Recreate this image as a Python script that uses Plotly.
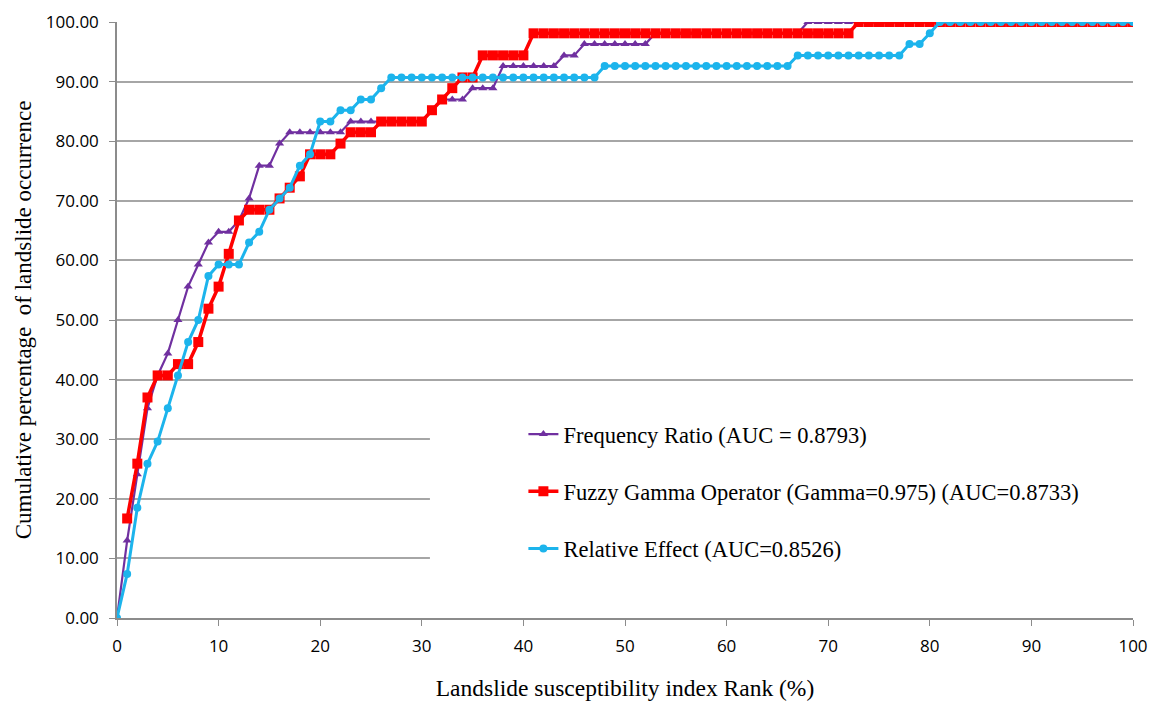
import plotly.graph_objects as go

x_rank = list(range(0, 101))

freq_ratio = ([0, 13.0, 24.1, 35.2, 40.7, 44.4, 50.0, 55.6, 59.3, 63.0, 64.8, 64.8, 66.7,
               70.4, 75.9, 75.9, 79.6, 81.5, 81.5, 81.5, 81.5, 81.5, 81.5, 83.3, 83.3, 83.3,
               83.3, 83.3, 83.3, 83.3, 83.3, 85.2, 87.0, 87.0, 87.0, 88.9, 88.9, 88.9,
               92.6, 92.6, 92.6, 92.6, 92.6, 92.6, 94.4, 94.4,
               96.3, 96.3, 96.3, 96.3, 96.3, 96.3, 96.3]
              + [98.1] * 15 + [100.0] * 33)

fuzzy_x = list(range(1, 101))
fuzzy_gamma = ([16.7, 25.9, 37.0, 40.7, 40.7, 42.6, 42.6, 46.3, 51.9, 55.6, 61.1, 66.7,
                68.5, 68.5, 68.5, 70.4, 72.2, 74.1, 77.8, 77.8, 77.8, 79.6, 81.5, 81.5, 81.5,
                83.3, 83.3, 83.3, 83.3, 83.3, 85.2, 87.0, 88.9, 90.7, 90.7,
                94.4, 94.4, 94.4, 94.4, 94.4]
               + [98.1] * 32 + [100.0] * 28)

relative_effect = ([0, 7.4, 18.5, 25.9, 29.6, 35.2, 40.7, 46.3, 50.0, 57.4, 59.3, 59.3, 59.3,
                    63.0, 64.8, 68.5, 70.4, 72.2, 75.9, 77.8, 83.3, 83.3, 85.2, 85.2, 87.0,
                    87.0, 88.9]
                   + [90.7] * 21 + [92.6] * 19 + [94.4] * 11 + [96.3, 96.3, 98.1]
                   + [100.0] * 20)

y_ticks = [0, 10, 20, 30, 40, 50, 60, 70, 80, 90, 100]
y_tick_labels = ["%.2f" % v for v in y_ticks]
x_ticks = [0, 10, 20, 30, 40, 50, 60, 70, 80, 90, 100]

names = ["Frequency Ratio (AUC = 0.8793)",
         "Fuzzy Gamma Operator (Gamma=0.975) (AUC=0.8733)",
         "Relative Effect (AUC=0.8526)"]

fig = go.Figure()
fig.add_trace(go.Scatter(x=x_rank, y=freq_ratio, mode="lines+markers", name=names[0],
                         legendgroup="a",
                         line=dict(color="#7030A0", width=2.2),
                         marker=dict(symbol="triangle-up", size=8, color="#7030A0")))
fig.add_trace(go.Scatter(x=fuzzy_x, y=fuzzy_gamma, mode="lines+markers", name=names[1],
                         legendgroup="b",
                         line=dict(color="#FF0000", width=3.5),
                         marker=dict(symbol="square", size=10, color="#FF0000")))
fig.add_trace(go.Scatter(x=x_rank, y=relative_effect, mode="lines+markers", name=names[2],
                         legendgroup="c",
                         line=dict(color="#1CB4EC", width=3),
                         marker=dict(symbol="circle", size=8, color="#1CB4EC")))

# white legend background covering gridlines
fig.add_shape(type="rect", xref="x", yref="y", x0=30.8, x1=100, y0=1, y1=36.5,
              fillcolor="white", line=dict(width=0), layer="between")

fig.update_layout(
    width=1149, height=701,
    margin=dict(l=117, r=16, t=22, b=83),
    paper_bgcolor="white", plot_bgcolor="white",
    showlegend=True,
    legend=dict(x=0.400, y=0.344, xanchor="left", yanchor="top",
                bgcolor="rgba(0,0,0,0)", traceorder="grouped", tracegroupgap=25,
                font=dict(family="Liberation Serif", size=22.5, color="black"),
                itemwidth=30),
    xaxis=dict(range=[0, 100], tickvals=x_ticks, showgrid=False, zeroline=False,
               automargin=False,
               showline=True, linecolor="#8C8C8C", linewidth=1.5,
               ticks="outside", ticklen=6, tickcolor="#8C8C8C",
               ticklabelstandoff=6,
               tickfont=dict(family="Open Sans", size=17, color="black"),
               title=dict(text="Landslide susceptibility index Rank (%)",
                          font=dict(family="Liberation Serif", size=23.5, color="black"),
                          standoff=24)),
    yaxis=dict(range=[0, 100], tickvals=y_ticks, ticktext=y_tick_labels,
               automargin=False,
               showgrid=True, gridcolor="#A6A6A6", gridwidth=1.5, zeroline=False,
               showline=True, linecolor="#8C8C8C", linewidth=1.5,
               ticks="outside", ticklen=6, tickcolor="#8C8C8C",
               ticklabelstandoff=7,
               tickfont=dict(family="Open Sans", size=17, color="black"),
               title=dict(text="Cumulative percentage  of landslide occurrence",
                          font=dict(family="Liberation Serif", size=23, color="black"),
                          standoff=8)),
)

fig.write_html("out.html",
               config={"displayModeBar": False},
               post_script="document.body.style.margin='0px';"
                           "document.body.style.overflow='hidden';")
